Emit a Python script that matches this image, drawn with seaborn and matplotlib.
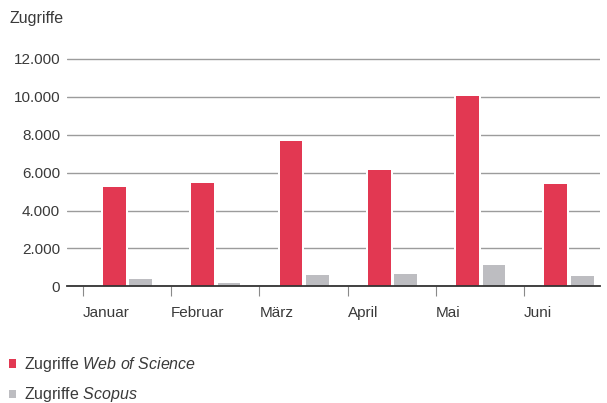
import numpy as np
import pandas as pd
import seaborn as sns
import matplotlib.pyplot as plt
from matplotlib.ticker import FuncFormatter

sns.set_style("white")
plt.rcParams['font.family'] = ['Liberation Sans', 'DejaVu Sans']
plt.rcParams['mathtext.fontset'] = 'custom'
plt.rcParams['mathtext.it'] = 'Liberation Sans:italic'
plt.rcParams['mathtext.rm'] = 'Liberation Sans'

# data
months = ["Januar", "Februar", "März", "April", "Mai", "Juni"]
web_of_science = [5250, 5450, 7660, 6130, 10030, 5420]
scopus = [400, 180, 620, 670, 1110, 560]
series = ["Zugriffe $\\it{Web\\ of\\ Science}$", "Zugriffe $\\it{Scopus}$"]
colors = ["#E23852", "#BDBDC1"]
y_ticks = [0, 2000, 4000, 6000, 8000, 10000, 12000]

df = pd.DataFrame({
    "Monat": months * 2,
    "Zugriffe": web_of_science + scopus,
    "Quelle": [series[0]] * len(months) + [series[1]] * len(months),
})

text_color = "#3a3a3a"

fig = plt.figure(figsize=(6.07, 4.03), dpi=100)
ax = fig.add_axes([0.1104, 0.2896, 0.878, 0.5712])

# white halo under the bars so the gridlines break around them
sns.barplot(data=df, x="Monat", y="Zugriffe", hue="Quelle", order=months,
            hue_order=series, palette=["white", "white"], width=0.6, gap=0.143,
            edgecolor="white", linewidth=2.9, saturation=1, legend=False, ax=ax)
sns.barplot(data=df, x="Monat", y="Zugriffe", hue="Quelle", order=months,
            hue_order=series, palette=colors, width=0.6, gap=0.143,
            linewidth=0, saturation=1, ax=ax)

ax.set_axisbelow(True)
ax.set_ylim(0, 12150)
ax.set_xlim(-0.686, 5.35)
ax.set_yticks(y_ticks)
ax.yaxis.set_major_formatter(FuncFormatter(lambda v, p: f"{int(v):,}".replace(",", ".")))
ax.grid(axis="y", color="#9c9c9c", linewidth=1.0)
ax.grid(axis="x", visible=False)

# month ticks sit at the left edge of each group, labels start there
ax.set_xticks(np.arange(len(months)) - 0.508)
ax.set_xticklabels(months)
for lab in ax.get_xticklabels():
    lab.set_horizontalalignment("left")

ax.tick_params(axis="x", length=7, width=0.8, color="#8a8a8a", pad=7,
               labelsize=11, labelcolor=text_color, direction="out", bottom=True)
ax.tick_params(axis="y", length=0, pad=5, labelsize=11, labelcolor=text_color)

for s in ["top", "right", "left"]:
    ax.spines[s].set_visible(False)
ax.spines["bottom"].set_color("#333333")
ax.spines["bottom"].set_linewidth(1.3)

ax.set_xlabel("")
ax.set_ylabel("")
fig.text(9 / 607, 1 - 18 / 403, "Zugriffe", fontsize=11.5, color=text_color,
         ha="left", va="center")

handles, labels = ax.get_legend_handles_labels()
ax.get_legend().remove()
leg = fig.legend(handles, labels, loc="upper left", bbox_to_anchor=(0.0153, 1 - 355 / 403),
                 frameon=False, fontsize=11.5, handlelength=0.45, handleheight=0.45,
                 handletextpad=0.45, labelspacing=0.72, borderaxespad=0.0,
                 borderpad=0.0, labelcolor=text_color)
for p in leg.get_patches():
    p.set_linewidth(0)

fig.savefig("out.png", dpi=100)
